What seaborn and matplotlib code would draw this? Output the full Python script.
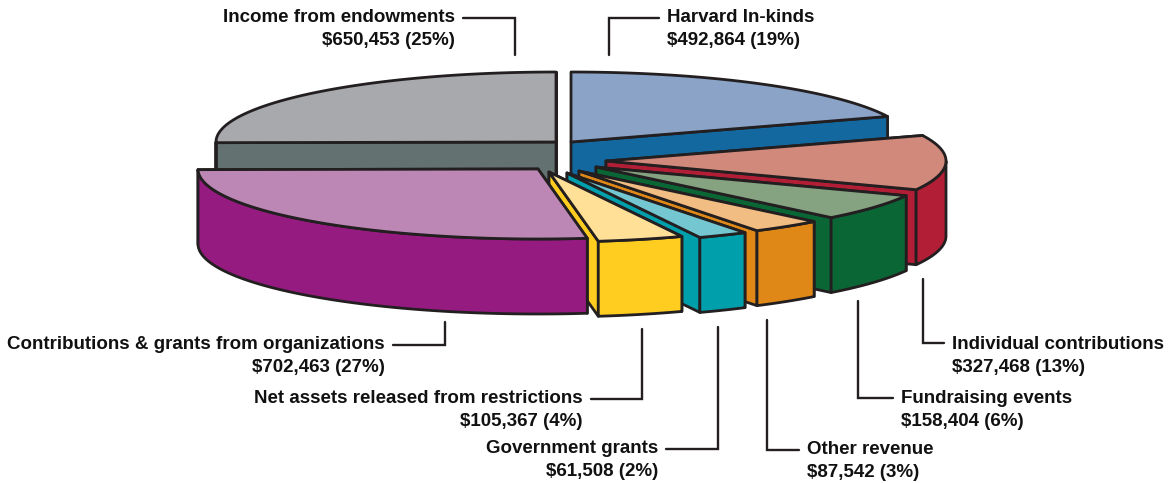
import numpy as np
import matplotlib
matplotlib.use("Agg")
import matplotlib.pyplot as plt
from matplotlib.patches import Polygon
import seaborn as sns

# Data, clockwise from 12 o'clock
names = ["Harvard In-kinds", "Individual contributions", "Fundraising events", "Other revenue",
         "Government grants", "Net assets released from restrictions",
         "Contributions & grants from organizations", "Income from endowments"]
amounts = [492864, 327468, 158404, 87542, 61508, 105367, 702463, 650453]

top_colors = ["#8aa3c7", "#d1897c", "#85a281", "#f2bd82", "#74c6d0", "#ffe096", "#bd87b5", "#a7a9ac"]
wall_colors = ["#12689f", "#b21e36", "#0b6636", "#df8818", "#009fac", "#ffcd20", "#951b81", "#637170"]

# Pie apex of each exploded slice, in pixels
apex_x = [571, 606, 596, 579, 567, 549, 538, 556]
apex_y = [142, 161, 167, 171, 173, 172, 169, 142]
rx, ry, depth = 340, 70, 75

# Label anchor and leader lines, in pixels
label_x = [667, 952, 901, 807, 658, 583, 385, 455]
label_y = [29, 356, 410, 461, 460, 410, 356, 29]
label_ha = ["left", "left", "left", "left", "right", "right", "right", "right"]
leaders = [
    [(659, 18), (609, 18), (609, 55)],
    [(944, 343), (923, 343), (923, 279)],
    [(893, 398), (858, 398), (858, 301)],
    [(799, 450), (767, 450), (767, 320)],
    [(666, 449), (718, 449), (718, 327)],
    [(591, 399), (642, 399), (642, 329)],
    [(393, 345), (445, 345), (445, 322)],
    [(463, 18), (515, 18), (515, 55)],
]

sns.set_theme(style="white")
plt.rcParams["font.family"] = ["Liberation Sans", "DejaVu Sans"]
line_color = "#231f20"

fig, ax = plt.subplots(figsize=(11.76, 4.83), dpi=100)
fig.subplots_adjust(0, 0, 1, 1)
ax.set_xlim(0, 1176)
ax.set_ylim(483, 0)
ax.axis("off")


def rim(cx, cy, deg):
    a = np.radians(deg)
    return np.column_stack([cx + rx * np.sin(a), cy - ry * np.cos(a)])


def add_poly(pts, color):
    ax.add_patch(Polygon(pts, closed=True, facecolor=color, edgecolor=line_color,
                         linewidth=2.0, joinstyle="round"))


total = sum(amounts)
edges = np.concatenate([[0], np.cumsum(amounts) / total * 360])

# painter's order: endowments at the back, then clockwise so each slice covers the one before it
for i in [7, 0, 1, 2, 3, 4, 5, 6]:
    cx, cy = apex_x[i], apex_y[i]
    a0, a1 = edges[i], edges[i + 1]
    apex = np.array([cx, cy])
    down = np.array([0, depth])

    # flat cut walls
    for a in (a0, a1):
        p = rim(cx, cy, a)[0]
        add_poly([apex, p, p + down, apex + down], wall_colors[i])

    # curved outer wall, only the part that faces the viewer
    lo, hi = max(a0, 90), min(a1, 270)
    if hi > lo:
        curve = rim(cx, cy, np.linspace(lo, hi, 80))
        add_poly(np.vstack([curve, curve[::-1] + down]), wall_colors[i])

    # top face
    arc = rim(cx, cy, np.linspace(a0, a1, 120))
    add_poly(np.vstack([apex, arc]), top_colors[i])

# labels and leader lines
for i, name in enumerate(names):
    pct = round(amounts[i] / total * 100)
    ax.text(label_x[i], label_y[i], f"{name}\n${amounts[i]:,} ({pct}%)", ha=label_ha[i], va="center",
            fontsize=13.5, fontweight="bold", color="#111111", linespacing=1.48,
            multialignment=label_ha[i])
    xs, ys = zip(*leaders[i])
    ax.plot(xs, ys, color=line_color, linewidth=1.7, solid_joinstyle="miter")

plt.savefig("out.png", dpi=100)
